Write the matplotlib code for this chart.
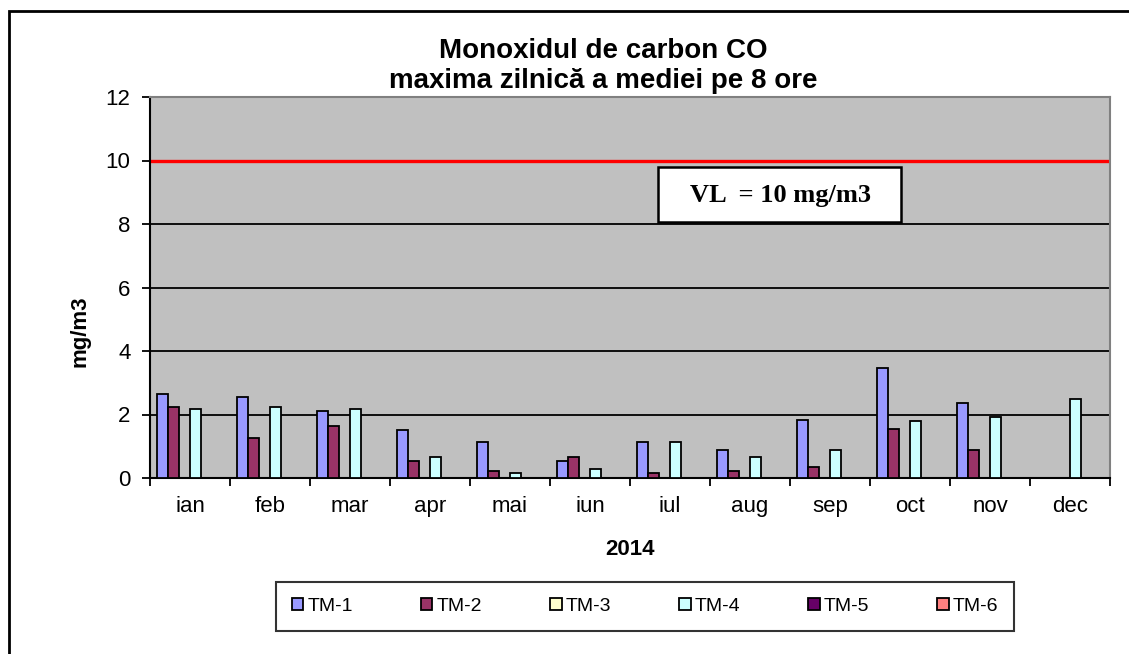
import numpy as np
import matplotlib
matplotlib.use("Agg")
import matplotlib.pyplot as plt
from matplotlib.patches import Rectangle

plt.rcParams['font.family'] = ['Liberation Sans', 'DejaVu Sans']

months = ["ian", "feb", "mar", "apr", "mai", "iun", "iul", "aug", "sep", "oct", "nov", "dec"]
series = ["TM-1", "TM-2", "TM-3", "TM-4", "TM-5", "TM-6"]
colors = ["#9999FF", "#993366", "#FFFFCC", "#CCFFFF", "#660066", "#FF8080"]

nan = np.nan
tm1 = [2.63, 2.55, 2.10, 1.52, 1.13, 0.55, 1.13, 0.88, 1.84, 3.46, 2.37, nan]
tm2 = [2.23, 1.26, 1.65, 0.55, 0.21, 0.67, 0.15, 0.21, 0.36, 1.53, 0.88, nan]
tm3 = [nan] * 12
tm4 = [2.16, 2.23, 2.16, 0.67, 0.15, 0.28, 1.13, 0.67, 0.88, 1.79, 1.92, 2.49]
tm5 = [nan] * 12
tm6 = [nan] * 12
values = [tm1, tm2, tm3, tm4, tm5, tm6]
limit_value = 10

fig = plt.figure(figsize=(11.29, 6.54), dpi=100)
ax = fig.add_axes([150/1129, 1-478/654, 960/1129, 381/654])
ax.set_facecolor("#C0C0C0")

x = np.arange(len(months))
w = 0.1375
for i, (name, vals, c) in enumerate(zip(series, values, colors)):
    ax.bar(x + (i - 2.5) * w, vals, w, color=c, edgecolor="black",
           linewidth=1.3, label=name, zorder=3)

for y in range(2, 12, 2):
    ax.axhline(y, color="black", lw=1.3, zorder=1)
ax.axhline(limit_value, color="#FF0000", lw=2.4, zorder=2)

ax.set_xlim(-0.5, 11.5)
ax.set_ylim(0, 12)
ax.set_yticks(range(0, 13, 2))
ax.tick_params(axis="y", labelsize=16, length=6, width=1.3, pad=8)
ax.set_xticks(np.arange(13) - 0.5)
ax.set_xticklabels([])
ax.tick_params(axis="x", which="major", length=6, width=1.3)
ax.set_xticks(x, minor=True)
ax.set_xticklabels(months, minor=True)
ax.tick_params(axis="x", which="minor", length=0, labelsize=16, pad=13)

for s in ["left", "bottom"]:
    ax.spines[s].set_linewidth(1.5)
    ax.spines[s].set_color("black")
for s in ["top", "right"]:
    ax.spines[s].set_linewidth(1.5)
    ax.spines[s].set_color("#808080")

ax.set_ylabel("mg/m3", fontsize=16, fontweight="bold")
ax.yaxis.set_label_coords(-0.062, 0.386)
ax.set_xlabel("2014", fontsize=16, fontweight="bold")
ax.xaxis.set_label_coords(0.5, -(539-478)/381)

fig.text(603/1129, 1-51/654, "Monoxidul de carbon CO", ha="center", va="center",
         fontsize=20, fontweight="bold")
fig.text(603/1129, 1-81/654, "maxima zilnică a mediei pe 8 ore", ha="center", va="center",
         fontsize=20, fontweight="bold")

# limit value label box
ax.add_patch(Rectangle((5.85, 8.06), 3.04, 1.73, fc="white", ec="black",
                       lw=1.8, zorder=5))
ax.text(7.375, 8.91, "VL  = 10 mg/m3", ha="center", va="center", fontsize=19,
        fontweight="bold", family="Liberation Serif", zorder=6)

leg = fig.legend(loc="center", bbox_to_anchor=(645/1129, 1-606.5/654), ncol=6,
                 fontsize=14, frameon=True, fancybox=False, edgecolor="black",
                 handlelength=0.6, handleheight=0.6, handletextpad=0.2,
                 columnspacing=3.5, borderpad=0.8, borderaxespad=0)
leg.get_frame().set_linewidth(1.5)

# outer chart border (only top and left visible)
fig.patches.append(Rectangle((9/1129, -0.1), 1.2, 1 - 11/654 + 0.1,
                             transform=fig.transFigure, fill=False,
                             ec="black", lw=2))

fig.savefig("out.png", dpi=100)
